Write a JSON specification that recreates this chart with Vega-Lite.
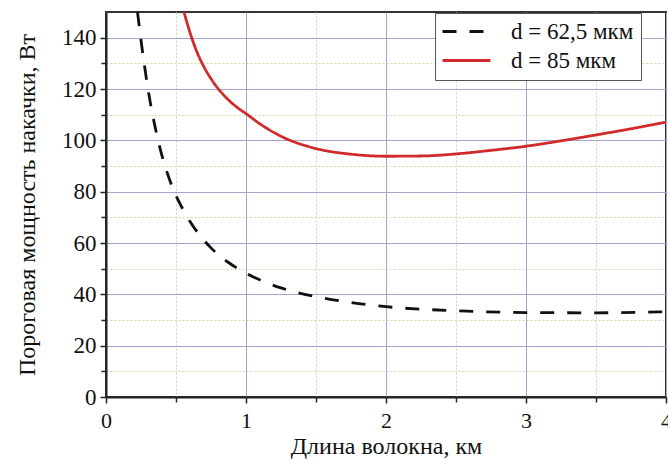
{
  "$schema": "https://vega.github.io/schema/vega-lite/v6.json",
  "width": 560,
  "height": 385,
  "autosize": "none",
  "padding": {"left": 106, "top": 12, "right": 2, "bottom": 63},
  "background": "white",
  "config": {
    "view": {"stroke": "#333", "strokeWidth": 2},
    "font": "Liberation Serif",
    "axis": {"labelFont": "Liberation Serif", "titleFont": "Liberation Serif", "labelColor": "#111", "titleColor": "#111", "titleFontWeight": "normal"}
  },
  "data": {"values": [
    {"L": 0.225, "P": 150, "s": "d = 62,5 мкм"},
    {"L": 0.25, "P": 139, "s": "d = 62,5 мкм"},
    {"L": 0.3, "P": 120, "s": "d = 62,5 мкм"},
    {"L": 0.37, "P": 100.5, "s": "d = 62,5 мкм"},
    {"L": 0.45, "P": 85.3, "s": "d = 62,5 мкм"},
    {"L": 0.5, "P": 78.5, "s": "d = 62,5 мкм"},
    {"L": 0.55, "P": 73.1, "s": "d = 62,5 мкм"},
    {"L": 0.6, "P": 68.4, "s": "d = 62,5 мкм"},
    {"L": 0.65, "P": 64.4, "s": "d = 62,5 мкм"},
    {"L": 0.7, "P": 61.0, "s": "d = 62,5 мкм"},
    {"L": 0.75, "P": 58.1, "s": "d = 62,5 мкм"},
    {"L": 0.8, "P": 55.6, "s": "d = 62,5 мкм"},
    {"L": 0.875, "P": 52.4, "s": "d = 62,5 мкм"},
    {"L": 1.0, "P": 48.2, "s": "d = 62,5 мкм"},
    {"L": 1.125, "P": 45.0, "s": "d = 62,5 мкм"},
    {"L": 1.25, "P": 42.5, "s": "d = 62,5 мкм"},
    {"L": 1.5, "P": 39.1, "s": "d = 62,5 мкм"},
    {"L": 1.75, "P": 36.8, "s": "d = 62,5 мкм"},
    {"L": 2.0, "P": 35.2, "s": "d = 62,5 мкм"},
    {"L": 2.5, "P": 33.6, "s": "d = 62,5 мкм"},
    {"L": 3.0, "P": 32.9, "s": "d = 62,5 мкм"},
    {"L": 3.5, "P": 32.8, "s": "d = 62,5 мкм"},
    {"L": 4.0, "P": 33.2, "s": "d = 62,5 мкм"},
    {"L": 0.557, "P": 150, "s": "d = 85 мкм"},
    {"L": 0.6, "P": 142, "s": "d = 85 мкм"},
    {"L": 0.65, "P": 134.4, "s": "d = 85 мкм"},
    {"L": 0.7, "P": 128.6, "s": "d = 85 мкм"},
    {"L": 0.75, "P": 124.0, "s": "d = 85 мкм"},
    {"L": 0.8, "P": 120.2, "s": "d = 85 мкм"},
    {"L": 0.85, "P": 117.1, "s": "d = 85 мкм"},
    {"L": 0.9, "P": 114.5, "s": "d = 85 мкм"},
    {"L": 0.95, "P": 112.3, "s": "d = 85 мкм"},
    {"L": 1.0, "P": 110.4, "s": "d = 85 мкм"},
    {"L": 1.1, "P": 106.4, "s": "d = 85 мкм"},
    {"L": 1.25, "P": 101.6, "s": "d = 85 мкм"},
    {"L": 1.5, "P": 96.8, "s": "d = 85 мкм"},
    {"L": 1.75, "P": 94.6, "s": "d = 85 мкм"},
    {"L": 2.0, "P": 93.8, "s": "d = 85 мкм"},
    {"L": 2.25, "P": 93.9, "s": "d = 85 мкм"},
    {"L": 2.5, "P": 94.7, "s": "d = 85 мкм"},
    {"L": 2.75, "P": 96.1, "s": "d = 85 мкм"},
    {"L": 3.0, "P": 97.7, "s": "d = 85 мкм"},
    {"L": 3.25, "P": 99.8, "s": "d = 85 мкм"},
    {"L": 3.5, "P": 102.1, "s": "d = 85 мкм"},
    {"L": 3.75, "P": 104.5, "s": "d = 85 мкм"},
    {"L": 4.0, "P": 107.1, "s": "d = 85 мкм"}
  ]},
  "layer": [
    {
      "mark": {"type": "line", "opacity": 0, "clip": true},
      "encoding": {
        "x": {"field": "L", "type": "quantitative", "scale": {"domain": [0, 4], "nice": false, "zero": false},
          "axis": {"orient": "bottom", "values": [0.5, 1.5, 2.5, 3.5], "grid": true, "gridDash": [2, 2], "gridColor": "#cfd6a8", "gridWidth": 1, "ticks": true, "tickSize": 5, "tickColor": "#222", "tickWidth": 1.5, "labels": false, "domain": false, "title": null}},
        "y": {"field": "P", "type": "quantitative", "scale": {"domain": [0, 150], "nice": false},
          "axis": {"orient": "left", "values": [10, 30, 50, 70, 90, 110, 130], "grid": true, "gridDash": [2, 2], "gridColor": "#cfd6a8", "gridWidth": 1, "ticks": true, "tickSize": 5, "tickColor": "#222", "tickWidth": 1.5, "labels": false, "domain": false, "title": null}},
        "detail": {"field": "s", "type": "nominal"}
      }
    },
    {
      "mark": {"type": "line", "clip": true, "interpolate": "monotone", "strokeWidth": 2.8},
      "encoding": {
        "x": {"field": "L", "type": "quantitative", "scale": {"domain": [0, 4], "nice": false, "zero": false},
          "axis": {"orient": "bottom", "values": [0, 1, 2, 3, 4], "grid": true, "gridColor": "#a3a3cc", "gridWidth": 1, "tickSize": 6, "tickColor": "#222", "tickWidth": 1.5, "domain": true, "domainColor": "#222", "domainWidth": 2, "labelFontSize": 22, "labelPadding": 7, "title": "Длина волокна, км", "titleFontSize": 24, "titlePadding": 3, "labelFlush": false}},
        "y": {"field": "P", "type": "quantitative", "scale": {"domain": [0, 150], "nice": false},
          "axis": {"orient": "left", "values": [0, 20, 40, 60, 80, 100, 120, 140], "grid": true, "gridColor": "#a3a3cc", "gridWidth": 1, "tickSize": 6, "tickColor": "#222", "tickWidth": 1.5, "domain": true, "domainColor": "#222", "domainWidth": 2, "labelFontSize": 23, "labelPadding": 4, "title": "Пороговая мощность накачки, Вт", "titleFontSize": 24, "titlePadding": 22, "labelFlush": false}},
        "color": {"field": "s", "type": "nominal", "title": null,
          "scale": {"domain": ["d = 62,5 мкм", "d = 85 мкм"], "range": ["#111111", "#d12a2a"]},
          "legend": {"orient": "none", "legendX": 329, "legendY": 1, "fillColor": "white", "strokeColor": "#555", "padding": 7, "symbolType": "M-2.4,0H2.4", "symbolSize": 400, "symbolStrokeWidth": 3, "symbolOffset": 13, "labelFont": "Liberation Serif", "labelFontSize": 23, "labelColor": "#111", "labelOffset": 33, "rowPadding": 5, "labelLimit": 300}},
        "strokeDash": {"field": "s", "type": "nominal", "title": null,
          "scale": {"domain": ["d = 62,5 мкм", "d = 85 мкм"], "range": [[14, 13], [1, 0]]}}
      }
    }
  ],
  "resolve": {"axis": {"x": "independent", "y": "independent"}}
}
